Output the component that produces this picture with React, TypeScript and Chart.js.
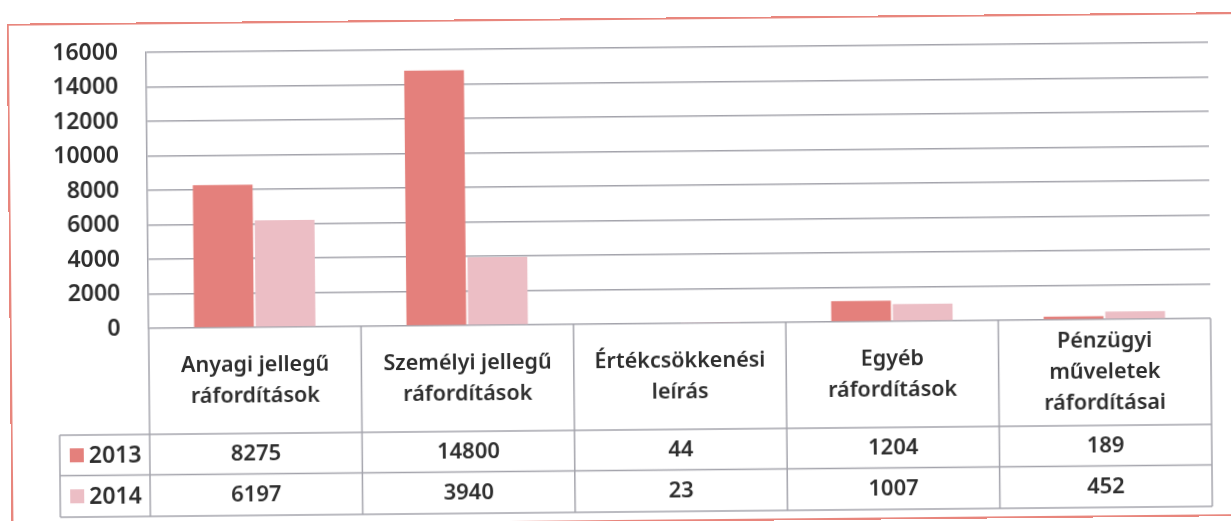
import React, { useEffect, useRef } from 'react';
import { Chart, registerables } from 'chart.js';

Chart.register(...registerables);

const categories: string[][] = [
  ['Anyagi jellegű', 'ráfordítások'],
  ['Személyi jellegű', 'ráfordítások'],
  ['Értékcsökkenési', 'leírás'],
  ['Egyéb', 'ráfordítások'],
  ['Pénzügyi', 'műveletek', 'ráfordításai'],
];
const seriesNames = ['2013', '2014'];
const values2013 = [8275, 14800, 44, 1204, 189];
const values2014 = [6197, 3940, 23, 1007, 452];
const seriesColors = ['#E4807C', '#ECBEC5'];
const yMin = 0;
const yMax = 16000;
const yStep = 2000;

const FONT = '"Noto Sans", sans-serif';
const TEXT = '#2d2d2d';
const LINE = '#A4A4AC';

const tablePlugin = {
  id: 'dataTable',
  afterDraw(chart: any) {
    const ctx = chart.ctx as CanvasRenderingContext2D;
    const { left, right, bottom } = chart.chartArea;
    const xs = chart.scales.x;
    const n = categories.length;
    const colW = (right - left) / n;
    const headerBottom = 430;
    const row1Bottom = 470.5;
    const row2Bottom = 512;
    const legendLeft = 58;
    const rows = [
      { top: headerBottom, bottom: row1Bottom, vals: values2013, name: seriesNames[0], color: seriesColors[0] },
      { top: row1Bottom, bottom: row2Bottom, vals: values2014, name: seriesNames[1], color: seriesColors[1] },
    ];

    ctx.save();
    ctx.strokeStyle = LINE;
    ctx.lineWidth = 1.5;
    const line = (x1: number, y1: number, x2: number, y2: number) => {
      ctx.beginPath();
      ctx.moveTo(x1, y1);
      ctx.lineTo(x2, y2);
      ctx.stroke();
    };
    line(legendLeft, headerBottom, right, headerBottom);
    line(legendLeft, row1Bottom, right, row1Bottom);
    line(legendLeft, row2Bottom, right, row2Bottom);
    for (let i = 0; i <= n; i++) {
      const x = left + i * colW;
      line(x, bottom, x, row2Bottom);
    }
    line(legendLeft, headerBottom, legendLeft, row2Bottom);

    ctx.fillStyle = TEXT;
    ctx.textAlign = 'center';
    ctx.textBaseline = 'middle';
    ctx.font = `600 21.5px ${FONT}`;
    const headerMid = (bottom + headerBottom) / 2;
    const lh = 31;
    categories.forEach((lines, i) => {
      const cx = xs.getPixelForValue(i);
      const start = headerMid - ((lines.length - 1) * lh) / 2;
      lines.forEach((t, j) => ctx.fillText(t, cx, start + j * lh));
    });

    rows.forEach((r) => {
      const cy = (r.top + r.bottom) / 2;
      ctx.font = `600 22px ${FONT}`;
      ctx.textAlign = 'center';
      ctx.fillStyle = TEXT;
      r.vals.forEach((v, i) => {
        ctx.fillText(String(v), xs.getPixelForValue(i), cy);
      });
      ctx.fillStyle = r.color;
      ctx.fillRect(68, cy - 7, 14, 14);
      ctx.fillStyle = TEXT;
      ctx.textAlign = 'left';
      ctx.font = `600 23px ${FONT}`;
      ctx.fillText(r.name, 87, cy + 1);
    });
    ctx.restore();
  },
};

export default function App() {
  const ref = useRef<HTMLCanvasElement | null>(null);
  useEffect(() => {
    document.body.style.margin = '0';
    document.body.style.background = '#ffffff';
    if (!ref.current) return;
    const chart = new Chart(ref.current, {
      type: 'bar',
      data: {
        labels: categories.map((c) => c.join(' ')),
        datasets: [
          { label: seriesNames[0], data: values2013, backgroundColor: seriesColors[0], barPercentage: 0.97, categoryPercentage: 0.58 },
          { label: seriesNames[1], data: values2014, backgroundColor: seriesColors[1], barPercentage: 0.97, categoryPercentage: 0.58 },
        ],
      },
      options: {
        responsive: false,
        animation: false,
        layout: { padding: { left: 0, top: 48, right: 21, bottom: 197 } },
        plugins: { legend: { display: false }, tooltip: { enabled: false }, title: { display: false } },
        scales: {
          x: { display: false },
          y: {
            min: yMin,
            max: yMax,
            afterFit: (s: any) => {
              s.width = 148;
            },
            ticks: {
              stepSize: yStep,
              padding: 28,
              color: TEXT,
              font: { family: FONT, size: 23, weight: 600 as any },
              callback: (v: any) => String(v),
            },
            grid: { color: LINE, lineWidth: 1.5, drawTicks: false, tickLength: 0 },
            border: { display: true, color: LINE, width: 1.5 },
          },
        },
      },
      plugins: [tablePlugin],
    });
    return () => chart.destroy();
  }, []);

  return (
    <div
      style={{
        position: 'fixed',
        left: 0,
        top: 0,
        width: 1231,
        height: 521,
        background: '#fff',
        transform: 'rotate(-0.54deg)',
        transformOrigin: '615px 260px',
      }}
    >
      <canvas ref={ref} width={1231} height={521} style={{ position: 'absolute', left: 0, top: 0 }} />
      <div
        style={{
          position: 'absolute',
          left: 9,
          top: 18,
          width: 1240,
          height: 504,
          border: '2px solid #E8867D',
          boxSizing: 'border-box',
          pointerEvents: 'none',
        }}
      />
    </div>
  );
}
